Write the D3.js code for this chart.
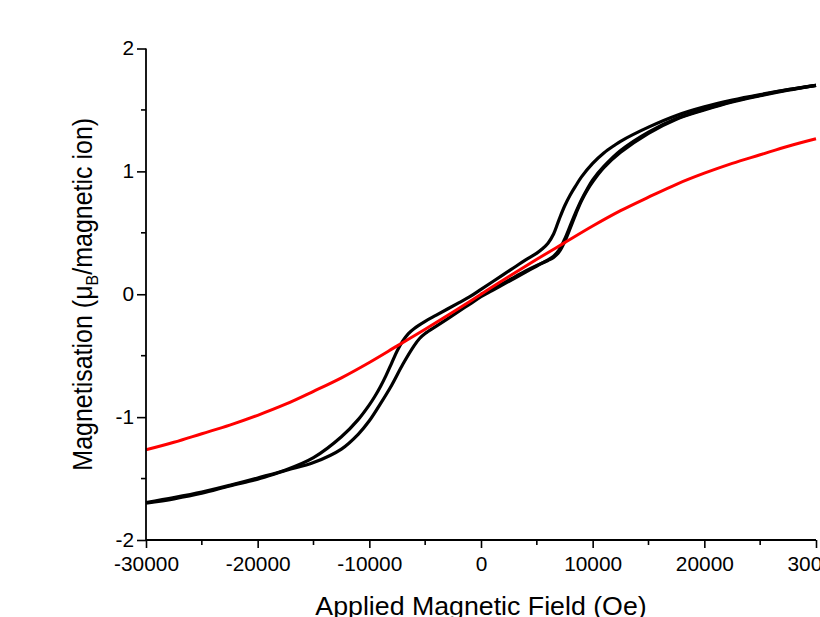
<!DOCTYPE html>
<html>
<head>
<meta charset="utf-8">
<script src="https://cdn.jsdelivr.net/npm/d3@7"></script>
<style>
  html, body { margin: 0; padding: 0; background: #fff; }
  svg { display: block; }
  text { font-family: "Liberation Sans", Arial, sans-serif; fill: #000; }
</style>
</head>
<body>
<svg id="chart" width="820" height="617"></svg>
<script>
// Field values (Oe) and magnetisation (muB per magnetic ion)

// Descending-field branch, +30 kOe to -30 kOe
const descField = [30000, 27500, 25000, 22500, 20000, 17500, 15000, 12500, 12000, 11000, 10000, 9000, 8500, 8000, 7500, 7000, 6500, 6000, 5500, 5000, 4000, 3000, 2000, 1000, 0,
  -1000, -2000, -3000, -4000, -5000, -6000, -6500, -7000, -7500, -8000, -8500, -9000, -9500, -10000, -11000, -12500, -15000, -17500, -20000, -22500, -25000, -27500, -30000];
const descMoment = [1.70, 1.665, 1.625, 1.58, 1.525, 1.455, 1.36, 1.245, 1.215, 1.15, 1.065, 0.955, 0.885, 0.81, 0.72, 0.61, 0.49, 0.415, 0.37, 0.335, 0.28, 0.22, 0.16, 0.10, 0.04,
  -0.02, -0.07, -0.12, -0.17, -0.22, -0.28, -0.32, -0.38, -0.46, -0.56, -0.66, -0.75, -0.83, -0.90, -1.02, -1.16, -1.33, -1.43, -1.495, -1.555, -1.61, -1.655, -1.695];

// Ascending-field branch, -30 kOe to +30 kOe
const ascField = [-30000, -27500, -25000, -22500, -20000, -17500, -15000, -12500, -11000, -10000, -9000, -8000, -7000, -6000, -5500, -5000, -4000, -3000, -2000, -1000, 0,
  1000, 2000, 3000, 4000, 5000, 6000, 6500, 7000, 7500, 8000, 8500, 9000, 9500, 10000, 11000, 12500, 15000, 17500, 20000, 22500, 25000, 27500, 30000];
const ascMoment = [-1.70, -1.665, -1.62, -1.56, -1.505, -1.435, -1.37, -1.26, -1.14, -1.03, -0.89, -0.74, -0.57, -0.42, -0.36, -0.32, -0.26, -0.20, -0.14, -0.08, -0.02,
  0.03, 0.08, 0.13, 0.18, 0.23, 0.28, 0.31, 0.36, 0.45, 0.56, 0.67, 0.77, 0.855, 0.93, 1.04, 1.17, 1.32, 1.43, 1.505, 1.57, 1.62, 1.665, 1.70];

// Initial magnetisation from zero field
const virginField = [0, 1000, 2000, 3000, 4000, 5000, 6000, 6500, 7000, 7500, 8000, 8500, 9000, 9500, 10000, 11000, 12500, 15000, 17500, 20000, 22500, 25000, 27500, 30000];
const virginMoment = [0.00, 0.04, 0.09, 0.14, 0.19, 0.235, 0.275, 0.30, 0.345, 0.43, 0.54, 0.655, 0.76, 0.845, 0.915, 1.03, 1.155, 1.31, 1.425, 1.50, 1.565, 1.615, 1.66, 1.70];

// Paramagnetic (Brillouin-type) reference curve
const paraField = [-30000, -27500, -25000, -22500, -20000, -17500, -15000, -12500, -10000, -7500, -5000, -2500, 0,
  2500, 5000, 7500, 10000, 12500, 15000, 17500, 20000, 22500, 25000, 27500, 30000];
const paraMoment = [-1.265, -1.205, -1.135, -1.065, -0.985, -0.895, -0.79, -0.68, -0.555, -0.42, -0.285, -0.145, 0,
  0.145, 0.285, 0.42, 0.555, 0.68, 0.79, 0.895, 0.985, 1.065, 1.135, 1.205, 1.265];

const xTicks = [-30000, -20000, -10000, 0, 10000, 20000, 30000];
const xMinorTicks = [-25000, -15000, -5000, 5000, 15000, 25000];
const yTicks = [-2, -1, 0, 1, 2];
const yMinorTicks = [-1.5, -0.5, 0.5, 1.5];

const svg = d3.select("#chart");
const margin = { left: 146, right: 4, top: 48.5, bottom: 77 };
const W = 820, H = 617;
const stretch = 1.07; // text is drawn slightly wide

const x = d3.scaleLinear().domain([-30000, 30000]).range([margin.left, W - margin.right]);
const y = d3.scaleLinear().domain([-2, 2]).range([H - margin.bottom, margin.top]);

const line = d3.line()
  .x(d => x(d[0]))
  .y(d => y(d[1]))
  .curve(d3.curveCatmullRom.alpha(0.5));

const zip = (a, b) => a.map((v, i) => [v, b[i]]);

const plot = svg.append("g");

// black measured loop
[[virginField, virginMoment], [ascField, ascMoment], [descField, descMoment]].forEach(([f, m]) => {
  plot.append("path")
    .datum(zip(f, m))
    .attr("d", line)
    .attr("fill", "none")
    .attr("stroke", "#000")
    .attr("stroke-width", 3.2)
    .attr("stroke-linejoin", "round");
});

// red paramagnetic curve
plot.append("path")
  .datum(zip(paraField, paraMoment))
  .attr("d", line)
  .attr("fill", "none")
  .attr("stroke", "#ff0000")
  .attr("stroke-width", 3);

const plain = d => String(d);

// axes
const xAxis = svg.append("g")
  .attr("transform", `translate(0,${y(-2)})`)
  .call(d3.axisBottom(x).tickValues(xTicks).tickSize(8).tickPadding(9).tickFormat(plain));
xAxis.append("g").selectAll("line").data(xMinorTicks).join("line")
  .attr("x1", d => x(d)).attr("x2", d => x(d)).attr("y1", 0).attr("y2", 5)
  .attr("stroke", "#000").attr("stroke-width", 1.6);

const yAxis = svg.append("g")
  .attr("transform", `translate(${x(-30000)},0)`)
  .call(d3.axisLeft(y).tickValues(yTicks).tickSize(9).tickPadding(3).tickFormat(plain));
yAxis.append("g").selectAll("line").data(yMinorTicks).join("line")
  .attr("x1", 0).attr("x2", -5).attr("y1", d => y(d)).attr("y2", d => y(d))
  .attr("stroke", "#000").attr("stroke-width", 1.6);

[xAxis, yAxis].forEach(g => {
  g.select(".domain").attr("stroke", "#000").attr("stroke-width", 1.8);
  g.selectAll(".tick line").attr("stroke", "#000").attr("stroke-width", 1.6);
  g.selectAll(".tick text")
    .style("font-family", '"Liberation Sans", Arial, sans-serif')
    .style("font-size", "19.5px")
    .attr("fill", "#000");
});
xAxis.selectAll(".tick text").attr("transform", `scale(${stretch},1)`);
yAxis.selectAll(".tick text").attr("transform", `translate(-12,0) scale(${stretch},1) translate(12,0)`);

// keep the axis lines plain with no end caps
xAxis.select(".domain").attr("d", `M${x(-30000)},0H${x(30000)}`);
yAxis.select(".domain").attr("d", `M0,${y(-2)}V${y(2)}`);

// axis titles
svg.append("text")
  .attr("transform", `translate(${x(0)},615) scale(${stretch},1)`)
  .attr("text-anchor", "middle")
  .style("font-size", "25px")
  .text("Applied Magnetic Field (Oe)");

const yt = svg.append("text")
  .attr("transform", `translate(92,${y(0)}) scale(${stretch},1) rotate(-90)`)
  .attr("text-anchor", "middle")
  .style("font-size", "25px");
yt.append("tspan").text("Magnetisation (μ");
yt.append("tspan").attr("dy", 6).style("font-size", "16px").text("B");
yt.append("tspan").attr("dy", -6).text("/magnetic ion)");
</script>
</body>
</html>
